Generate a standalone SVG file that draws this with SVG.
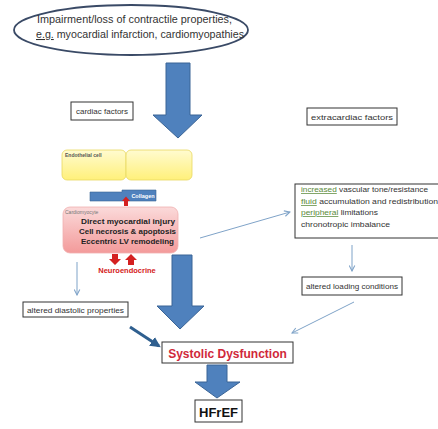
<svg xmlns="http://www.w3.org/2000/svg" width="438" height="429" viewBox="0 0 438 429">
<defs>
<style>
.lbl{font-family:"Liberation Sans",Arial,sans-serif;fill:#333;}
.box{fill:#fff;stroke:#333;stroke-width:1;}
.big{fill:#4F81BD;stroke:#3A6496;stroke-width:1;}
.thin{stroke:#7FA3C8;stroke-width:1;fill:none;marker-end:url(#ah);}
.sp{fill:#5a8a3a;text-decoration:underline;}
</style>
<marker id="ah" viewBox="0 0 10 10" refX="9" refY="5" markerWidth="7" markerHeight="7" orient="auto"><path d="M1,1 L9,5 L1,9" fill="none" stroke="#7FA3C8" stroke-width="1.5"/></marker>
<marker id="ahd" viewBox="0 0 10 10" refX="8" refY="5" markerWidth="3.5" markerHeight="3.5" orient="auto"><path d="M0,0 L10,5 L0,10 z" fill="#2F5F8F"/></marker>
<linearGradient id="yel" x1="0" y1="0" x2="0" y2="1"><stop offset="0" stop-color="#fffbd0"/><stop offset="1" stop-color="#fff07a"/></linearGradient>
<linearGradient id="pink" x1="0" y1="0" x2="0" y2="1"><stop offset="0" stop-color="#fbdada"/><stop offset="1" stop-color="#f39a9a"/></linearGradient>
</defs>
<rect width="438" height="429" fill="#fff"/>

<g id="connectors">
<line class="thin" x1="77" y1="262" x2="77" y2="295"/>
<line class="thin" x1="200" y1="238" x2="290" y2="212"/>
<line class="thin" x1="352" y1="245" x2="352" y2="271"/>
<line class="thin" x1="354" y1="302" x2="292" y2="333"/>
<line x1="130" y1="327" x2="159" y2="346" stroke="#2F5F8F" stroke-width="3" marker-end="url(#ahd)"/>
<path class="big" d="M166,63 H190 V115 H202 L178,138 L153,115 H166 Z"/>
<path class="big" d="M172,255 H192 V306 H204 L180,329 L157,306 H172 Z"/>
<path class="big" d="M207,365 H227 V382 H240 L217,398 L195,382 H207 Z"/>
</g>

<g id="impairment">
<ellipse cx="131" cy="30" rx="117" ry="25" fill="#fff" stroke="#3a4a66" stroke-width="1.8"/>
<text class="lbl" x="37" y="23" font-size="10.5" textLength="195" lengthAdjust="spacingAndGlyphs">Impairment/loss of contractile properties,</text>
<text class="lbl" x="36" y="38" font-size="10.5" textLength="208" lengthAdjust="spacingAndGlyphs"><tspan text-decoration="underline">e.g.</tspan> myocardial infarction, cardiomyopathies</text>
</g>

<g id="cardiac-factors">
<rect class="box" x="71" y="102" width="62" height="18"/>
<text class="lbl" x="76" y="114" font-size="7.5" textLength="52" lengthAdjust="spacingAndGlyphs">cardiac factors</text>
</g>

<g id="extracardiac-factors">
<rect class="box" x="307" y="108" width="90" height="17"/>
<text class="lbl" x="311" y="119.5" font-size="7.5" textLength="82" lengthAdjust="spacingAndGlyphs">extracardiac  factors</text>
</g>

<g id="endothelial">
<rect x="62" y="150" width="64" height="30" rx="5" fill="url(#yel)" stroke="#e8d860" stroke-width="0.8"/>
<rect x="126" y="150" width="66" height="30" rx="5" fill="url(#yel)" stroke="#e8d860" stroke-width="0.8"/>
<text x="65" y="157" font-size="5" font-weight="bold" font-family="Liberation Sans,Arial,sans-serif" fill="#555">Endothelial  cell</text>
</g>

<g id="collagen">
<path d="M90,192 H122 V190 H156 V201 H90 Z" fill="#4F81BD" stroke="#3A6496" stroke-width="0.6"/>
<text x="143" y="198" font-size="5.5" font-weight="bold" font-family="Liberation Sans,Arial,sans-serif" fill="#fff" text-anchor="middle">Collagen</text>
<path d="M124,206 V201 H122 L126,196.5 L130,201 H128 V206 Z" fill="#d42020"/>
</g>

<g id="cardiomyocyte">
<rect x="63" y="207" width="115" height="46" rx="7" fill="url(#pink)" stroke="#f0b0b0" stroke-width="0.8"/>
<text x="65" y="214" font-size="5" font-family="Liberation Sans,Arial,sans-serif" fill="#777">Cardiomyocyte</text>
<g font-family="Liberation Sans,Arial,sans-serif" font-weight="bold" font-size="8" fill="#222">
<text x="81" y="224" textLength="94" lengthAdjust="spacingAndGlyphs">Direct myocardial injury</text>
<text x="79" y="234" textLength="97" lengthAdjust="spacingAndGlyphs">Cell necrosis &amp; apoptosis</text>
<text x="81" y="244" textLength="93" lengthAdjust="spacingAndGlyphs">Eccentric LV remodeling</text>
</g>
</g>

<g id="neuroendocrine">
<path d="M112,254 H118 V259 H121 L115,265 L109,259 H112 Z" fill="#d42020"/>
<path d="M128,265 H134 V260 H137 L131,254 L125,260 H128 Z" fill="#d42020"/>
<text x="127" y="273" font-size="7.5" font-weight="bold" font-family="Liberation Sans,Arial,sans-serif" fill="#d42020" text-anchor="middle">Neuroendocrine</text>
</g>

<g id="extracardiac-list">
<rect class="box" x="295" y="184" width="150" height="54"/>
<g class="lbl" font-size="7.5">
<text x="301" y="192" textLength="127" lengthAdjust="spacingAndGlyphs"><tspan class="sp">increased</tspan> vascular tone/resistance</text>
<text x="301" y="204" textLength="137" lengthAdjust="spacingAndGlyphs"><tspan class="sp">fluid</tspan> accumulation and redistribution</text>
<text x="301" y="215" textLength="77" lengthAdjust="spacingAndGlyphs"><tspan class="sp">peripheral</tspan> limitations</text>
<text x="301" y="227" textLength="89" lengthAdjust="spacingAndGlyphs">chronotropic imbalance</text>
</g>
</g>

<g id="loading">
<rect class="box" x="302" y="277" width="100" height="18"/>
<text class="lbl" x="306" y="289" font-size="7.5" textLength="92" lengthAdjust="spacingAndGlyphs">altered  loading conditions</text>
</g>

<g id="diastolic">
<rect class="box" x="23" y="302" width="105" height="15"/>
<text class="lbl" x="27" y="312.5" font-size="7.5" textLength="97" lengthAdjust="spacingAndGlyphs">altered  diastolic properties</text>
</g>

<g id="systolic">
<rect class="box" x="162" y="342" width="131" height="21"/>
<text x="227.5" y="357.5" font-size="12" font-weight="bold" font-family="Liberation Sans,Arial,sans-serif" fill="#d0283a" text-anchor="middle">Systolic Dysfunction</text>
</g>

<g id="hfref">
<rect class="box" x="195" y="400" width="47" height="22"/>
<text x="218.5" y="416.5" font-size="13" font-weight="bold" font-family="Liberation Sans,Arial,sans-serif" fill="#111" text-anchor="middle">HFrEF</text>
</g>
</svg>
